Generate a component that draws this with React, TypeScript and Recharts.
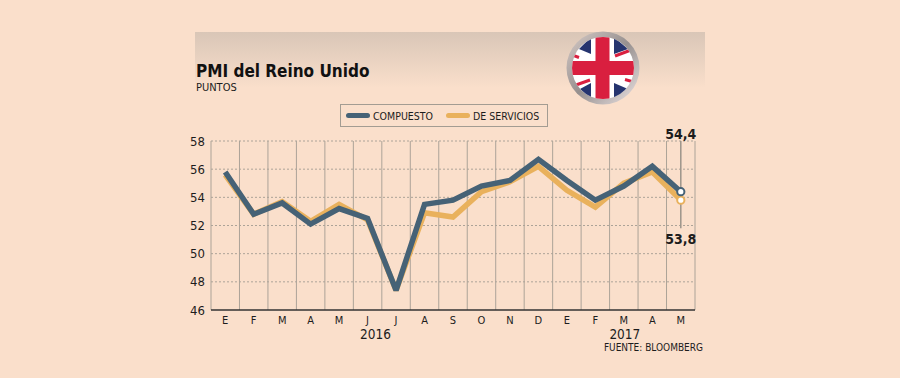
import { LineChart, Line, XAxis, YAxis, CartesianGrid, Legend, ReferenceLine } from "recharts";

const months = ["E", "F", "M", "A", "M", "J", "J", "A", "S", "O", "N", "D", "E", "F", "M", "A", "M"];
const compuesto = [55.8, 52.8, 53.6, 52.1, 53.2, 52.5, 47.4, 53.5, 53.8, 54.8, 55.2, 56.7, 55.2, 53.8, 54.8, 56.2, 54.4];
const servicios = [55.6, 52.8, 53.7, 52.3, 53.5, 52.4, 47.4, 52.9, 52.6, 54.4, 55.1, 56.2, 54.5, 53.3, 55.0, 55.8, 53.8];
const yTicks = [46, 48, 50, 52, 54, 56, 58];
const years: Record<number, string> = { 5: "2016", 14: "2017" };

const data = months.map((m, i) => ({ idx: i, month: m, compuesto: compuesto[i], servicios: servicios[i] }));

const FONT = "'DejaVu Sans Condensed', 'DejaVu Sans', sans-serif";
const BG = "#fadfcb";
const BLUE = "#466276";
const ORANGE = "#e9b15c";
const TEXT = "#1c1c1c";
const LAST = months.length - 1;

function MonthTick({ x, y, payload }: any) {
  const year = years[payload.value];
  return (
    <g>
      <text x={x} y={y + 6} textAnchor="middle" fontSize={11} fontFamily={FONT} fill={TEXT}>
        {months[payload.value]}
      </text>
      {year && (
        <text x={x + (payload.value === 5 ? 8 : 1)} y={y + 21} textAnchor="middle" fontSize={13.5} fontFamily={FONT} fill={TEXT}>
          {year}
        </text>
      )}
    </g>
  );
}

function endDot(color: string, labelDy: number) {
  return (props: any) => {
    if (props.index !== LAST) return <g key={props.index} />;
    return (
      <g key={props.index}>
        <circle cx={props.cx} cy={props.cy} r={3.6} fill="#fff" stroke={color} strokeWidth={2} />
        <text x={props.cx} y={props.cy + labelDy} textAnchor="middle" fontSize={14} fontWeight="bold" fontFamily={FONT} fill={TEXT}>
          {String(props.value).replace(".", ",")}
        </text>
      </g>
    );
  };
}

function LegendBox() {
  const item = (color: string, label: string, w: number) => (
    <div style={{ display: "flex", alignItems: "center", whiteSpace: "nowrap" }}>
      <div style={{ width: w, height: 5, borderRadius: 3, background: color, marginRight: 3 }} />
      <span style={{ fontSize: 10.5, color: TEXT, fontFamily: FONT }}>{label}</span>
    </div>
  );
  return (
    <div style={{ width: 208, height: 23, boxSizing: "border-box", border: "1px solid #a39c92", display: "flex", alignItems: "center", paddingLeft: 5, gap: 13 }}>
      {item(BLUE, "COMPUESTO", 24)}
      {item(ORANGE, "DE SERVICIOS", 24)}
    </div>
  );
}

function Flag() {
  return (
    <svg width={80} height={80} style={{ position: "absolute", left: 563, top: 28 }} viewBox="-40 -40 80 80">
      <defs>
        <linearGradient id="ring" x1="0" y1="0" x2="1" y2="1">
          <stop offset="0" stopColor="#d8ccc8" />
          <stop offset="0.5" stopColor="#96908f" />
          <stop offset="1" stopColor="#efe6e6" />
        </linearGradient>
        <clipPath id="disc">
          <circle r={31} />
        </clipPath>
      </defs>
      <circle r={36.5} fill="url(#ring)" />
      <g clipPath="url(#disc)">
        <rect x={-32} y={-32} width={64} height={64} fill="#fff" />
        <g fill="#25346f">
          <polygon points="-24,-19 -12,-31 -12,-14" />
          <polygon points="11,-31 11,-14 25,-19" />
          <polygon points="-23,21 -12,15 -12,31" />
          <polygon points="11,15 11,31 25,21" />
        </g>
        <g stroke="#d91f3f" strokeWidth={3}>
          <line x1={12} y1={-12} x2={28} y2={-18} />
          <line x1={-13} y1={12} x2={-27} y2={17} />
          <line x1={-31} y1={-13} x2={-24} y2={-10.5} />
          <line x1={22} y1={11.5} x2={31} y2={14} />
        </g>
        <rect x={-7.5} y={-32} width={14} height={64} fill="#d91f3f" />
        <rect x={-32} y={-7} width={64} height={14} fill="#d91f3f" />
      </g>
    </svg>
  );
}

export default function App() {
  return (
    <div style={{ position: "absolute", left: 0, top: 0, width: 900, height: 378, background: BG, overflow: "hidden" }}>
      <div style={{ position: "absolute", left: 195, top: 32, width: 510, height: 56, background: "linear-gradient(#d9c6b7, #fadfcb)" }} />
      <Flag />
      <div style={{ position: "absolute", left: 196, top: 61, fontFamily: FONT, fontWeight: "bold", fontSize: 17, color: "#111" }}>PMI del Reino Unido</div>
      <div style={{ position: "absolute", left: 196, top: 81, fontFamily: FONT, fontSize: 11, color: TEXT }}>PUNTOS</div>
      <div style={{ position: "absolute", right: 197, top: 342, fontFamily: FONT, fontSize: 10, color: TEXT }}>FUENTE: BLOOMBERG</div>

      <LineChart width={900} height={378} data={data} margin={{ left: 181, right: 205, top: 141, bottom: 0 }} style={{ position: "absolute", left: 0, top: 0 }}>
        <CartesianGrid
          stroke="#aca398"
          horizontal={false}
          verticalCoordinatesGenerator={({ offset }: any) => [0, ...months].map((_, i) => offset.left + (i * offset.width) / months.length)}
        />
        <CartesianGrid
          stroke="#aca398"
          strokeDasharray="2 2"
          vertical={false}
          horizontalCoordinatesGenerator={({ offset }: any) => yTicks.slice(1).map((_, i) => offset.top + (i * offset.height) / 6)}
        />
        <XAxis
          dataKey="idx"
          type="category"
          interval={0}
          padding={{ left: 14.2, right: 14.2 }}
          tick={<MonthTick />}
          tickLine={false}
          axisLine={{ stroke: "#333", strokeWidth: 1.5 }}
          height={68}
        />
        <YAxis
          domain={[46, 58]}
          ticks={yTicks}
          width={30}
          axisLine={false}
          tickLine={false}
          tickMargin={0}
          tick={{ fontSize: 13, fontFamily: FONT, fill: TEXT }}
        />
        <Legend
          content={<LegendBox />}
          layout="vertical"
          align="center"
          verticalAlign="middle"
          wrapperStyle={{ position: "absolute", left: 340, top: 104, width: 208 }}
        />
        <ReferenceLine segment={[{ x: LAST, y: 58 }, { x: LAST, y: 51.8 }]} stroke="#9c948a" strokeWidth={1.5} />
        <Line dataKey="servicios" stroke={ORANGE} strokeWidth={5.5} strokeLinejoin="miter" strokeMiterlimit={2.5} dot={endDot(ORANGE, 44)} activeDot={false} isAnimationActive={false} />
        <Line dataKey="compuesto" stroke={BLUE} strokeWidth={5.5} strokeLinejoin="miter" strokeMiterlimit={2.5} dot={endDot(BLUE, -53)} activeDot={false} isAnimationActive={false} />
      </LineChart>
    </div>
  );
}
